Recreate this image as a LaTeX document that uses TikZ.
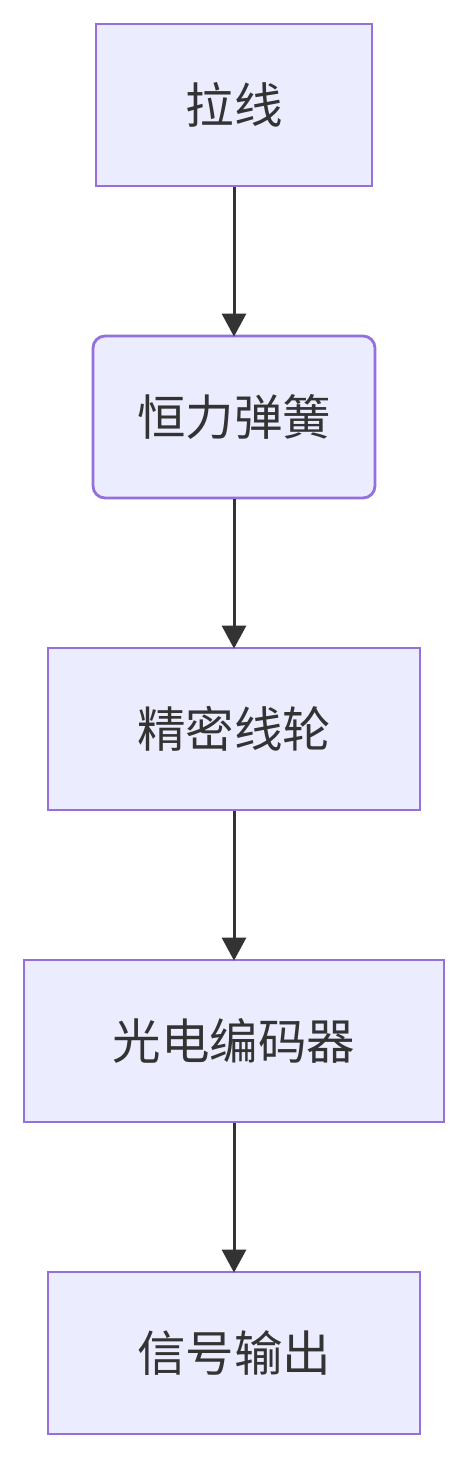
\documentclass[tikz,border=0pt]{standalone}
\usepackage{fontspec}
\newfontfamily\cjk{Noto Sans CJK SC}
\usetikzlibrary{arrows.meta}
\definecolor{boxfill}{HTML}{ECECFF}
\definecolor{boxline}{HTML}{9370DB}
\definecolor{ink}{HTML}{333333}
\begin{document}
\begin{tikzpicture}[x=1pt,y=-1pt,
  box/.style={draw=boxline,fill=boxfill,line width=2.8pt,inner sep=0pt,
    font=\cjk\fontsize{48.5}{52}\selectfont,text=ink},
  conn/.style={draw=ink,line width=3pt,shorten >=-2pt,-{Triangle[length=23pt,width=24pt]}}]
\useasboundingbox (0,0) rectangle (468,1458);
\fill[white] (0,0) rectangle (468,1458);
\node[box,minimum width=276pt,minimum height=162pt] (a) at (234,105) {拉线};
\node[box,rounded corners=12pt,minimum width=282pt,minimum height=162pt] (b) at (234,417) {恒力弹簧};
\node[box,minimum width=372pt,minimum height=162pt] (c) at (234,729) {精密线轮};
\node[box,minimum width=420pt,minimum height=162pt] (d) at (234,1041) {光电编码器};
\node[box,minimum width=372pt,minimum height=162pt] (e) at (234,1353) {信号输出};
\draw[conn] (a.south) -- (b.north);
\draw[conn] (b.south) -- (c.north);
\draw[conn] (c.south) -- (d.north);
\draw[conn] (d.south) -- (e.north);
\end{tikzpicture}
\end{document}
